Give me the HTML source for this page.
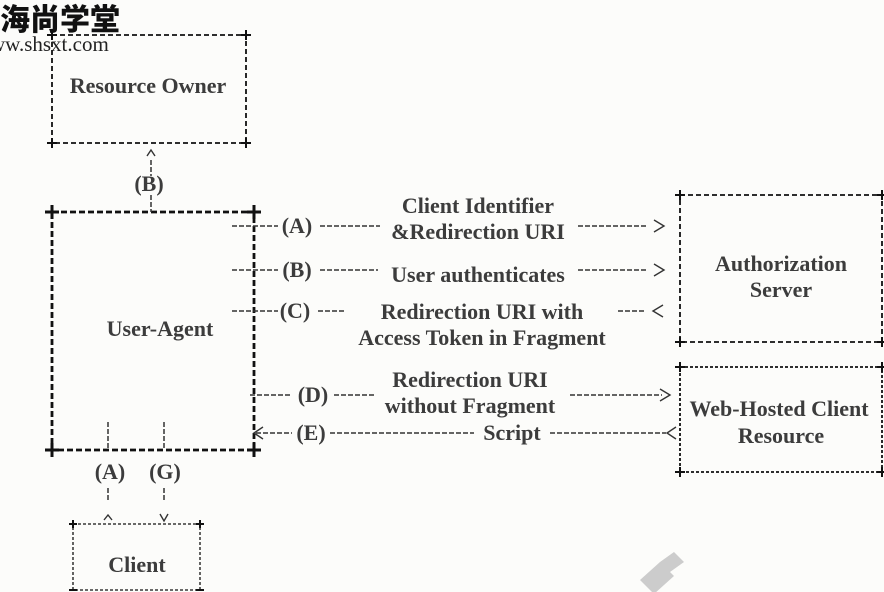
<!DOCTYPE html>
<html><head><meta charset="utf-8"><style>
html,body{margin:0;padding:0;background:#fcfcfa;}
svg{display:block}
text{font-family:"Liberation Serif",serif;font-weight:bold;fill:#3c3c3c;font-size:22px}
</style></head><body>
<svg width="884" height="592" viewBox="0 0 884 592" xmlns="http://www.w3.org/2000/svg">
<rect width="884" height="592" fill="#fcfcfa"/>
<g stroke="#111" fill="none" stroke-dasharray="5,3" stroke-width="1.8">
<rect x="52" y="35" width="194" height="108"/>
<rect x="680" y="195" width="202" height="147"/>
<rect x="680" y="367" width="202" height="105" stroke-dasharray="3,2"/>
<rect x="73" y="524" width="127" height="66" stroke-dasharray="3,2" stroke-width="1.3"/>
</g>
<g stroke="#111" fill="none" stroke-dasharray="6,3" stroke-width="2.8">
<rect x="52" y="212" width="202" height="238"/>
</g>
<g stroke="#111" stroke-width="2">
<path d="M47 35h10M52 30v10M241 35h10M246 30v10M47 143h10M52 138v10M241 143h10M246 138v10"/>
<path d="M675 195h10M680 190v10M877 195h10M882 190v10M675 342h10M680 337v10M877 342h10M882 337v10"/>
<path d="M675 367h10M680 362v10M877 367h10M882 362v10M675 472h10M680 467v10M877 472h10M882 467v10"/>
<path d="M69 524h8M73 520v8M196 524h8M200 520v8M69 590h8M196 590h8"/>
</g>
<g stroke="#111" stroke-width="3">
<path d="M45 212h14M52 205v14M247 212h14M254 205v14M45 450h14M52 443v14M247 450h14M254 443v14"/>
</g>
<g stroke="#333" stroke-width="1.5" stroke-dasharray="5,2" fill="none">
<path d="M232 226h46M320 226h60M578 226h70"/>
<path d="M232 270h46M320 270h58M578 270h70"/>
<path d="M232 311h46M318 311h28M618 311h28"/>
<path d="M250 395h42M334 395h40M570 395h92"/>
<path d="M256 433h36M330 433h144M550 433h116"/>
<path d="M151 160v16M151 195v17"/>
<path d="M108 422v28M164 422v28M108 488v14M164 488v14"/>
</g>
<g stroke="#333" stroke-width="1.4" fill="none">
<path d="M654 220l10 6-10 6M654 264l10 6-10 6M663 305l-10 6 10 6M660 389l10 6-10 6M263 427l-9 6 9 6M676 427l-9 6 9 6"/>
<path d="M147 156l4-6 4 6M104 520l4-5 4 5M160 514l4 7 4-7"/>
</g>
<text x="148" y="93" text-anchor="middle">Resource Owner</text>
<text x="149" y="191" text-anchor="middle" font-size="16">(B)</text>
<text x="160" y="336" text-anchor="middle">User-Agent</text>
<text x="781" y="271" text-anchor="middle">Authorization</text>
<text x="781" y="297" text-anchor="middle">Server</text>
<text x="779" y="416" text-anchor="middle">Web-Hosted Client</text>
<text x="781" y="443" text-anchor="middle">Resource</text>
<text x="137" y="572" text-anchor="middle">Client</text>
<text x="110" y="479" text-anchor="middle">(A)</text>
<text x="165" y="479" text-anchor="middle">(G)</text>
<text x="297" y="233" text-anchor="middle">(A)</text>
<text x="297" y="277" text-anchor="middle">(B)</text>
<text x="295" y="318" text-anchor="middle">(C)</text>
<text x="313" y="402" text-anchor="middle">(D)</text>
<text x="311" y="440" text-anchor="middle">(E)</text>
<text x="478" y="213" text-anchor="middle">Client Identifier</text>
<text x="478" y="239" text-anchor="middle">&amp;Redirection URI</text>
<text x="478" y="282" text-anchor="middle">User authenticates</text>
<text x="482" y="319" text-anchor="middle">Redirection URI with</text>
<text x="482" y="345" text-anchor="middle">Access Token in Fragment</text>
<text x="470" y="387" text-anchor="middle">Redirection URI</text>
<text x="470" y="413" text-anchor="middle">without Fragment</text>
<text x="512" y="440" text-anchor="middle">Script</text>
<text x="0" y="30" style="font-family:'Noto Sans CJK SC',sans-serif;font-weight:900;fill:#111;font-size:30px">海尚学堂</text>
<text x="-10" y="51" style="font-weight:normal;fill:#222;font-size:21px">ww.shsxt.com</text>
<g fill="#ccc"><path d="M640 580l20-18 14 14-20 18zM660 562l14-10 10 10-14 10z"/></g>
</svg>
</body></html>
